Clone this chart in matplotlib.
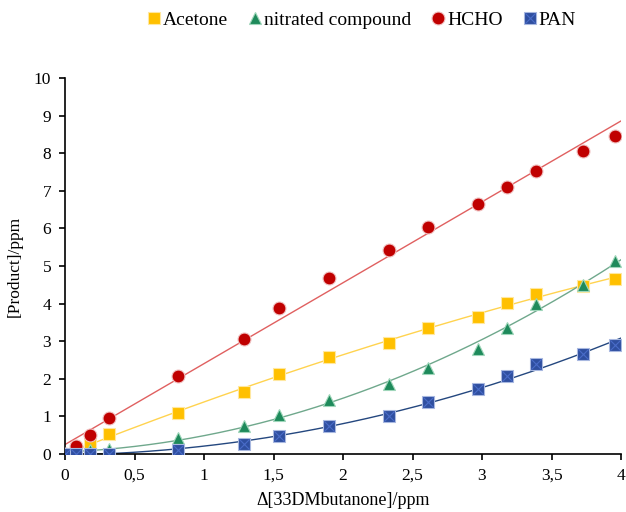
import numpy as np
import matplotlib
matplotlib.use("Agg")
import matplotlib.pyplot as plt
from matplotlib.lines import Line2D

plt.rcParams['font.family'] = ['Liberation Serif', 'DejaVu Serif']

# Consumed 3,3-dimethylbutanone (ppm)
x = [0, 0.08, 0.18, 0.32, 0.81, 1.285, 1.54, 1.90, 2.33, 2.61, 2.97, 3.18, 3.39, 3.73, 3.96]

acetone = [0, 0.05, 0.28, 0.54, 1.10, 1.64, 2.12, 2.59, 2.96, 3.36, 3.65, 4.01, 4.26, 4.47, 4.65]
nitrated = [0, 0.03, 0.10, 0.14, 0.42, 0.75, 1.05, 1.44, 1.86, 2.28, 2.79, 3.36, 3.98, 4.50, 5.13]
hcho = [0, 0.21, 0.50, 0.97, 2.08, 3.05, 3.87, 4.68, 5.42, 6.03, 6.66, 7.11, 7.53, 8.05, 8.47]
pan = [0, 0, 0, 0.01, 0.11, 0.27, 0.47, 0.74, 1.02, 1.37, 1.73, 2.07, 2.39, 2.66, 2.90]

x_ticks = [0, 0.5, 1, 1.5, 2, 2.5, 3, 3.5, 4]
x_tick_labels = ['0', '0,5', '1', '1,5', '2', '2,5', '3', '3,5', '4']
y_ticks = list(range(0, 11))

fig = plt.figure(figsize=(6.26, 5.12), dpi=100)
ax = fig.add_axes([65 / 626, 1 - 454 / 512, 556 / 626, 376 / 512])

xa = np.asarray(x)
xf = np.linspace(0, 4, 200)

def trend(y, deg):
    c = np.polyfit(xa, np.asarray(y), deg)
    return np.polyval(c, xf)

# Trend lines
ax.plot(xf, trend(hcho, 1), color='#E06060', lw=1.0, zorder=2)
ax.plot(xf, trend(acetone, 2), color='#FFD34F', lw=1.0, zorder=2)
ax.plot(xf, trend(nitrated, 2), color='#6FA88C', lw=1.0, zorder=2)
ax.plot(xf, trend(pan, 2), color='#24477F', lw=1.0, zorder=2)

# Measured points
ax.plot(x, acetone, ls='none', marker='s', ms=8.5, mfc='#FFC000', mec='#FFE8A0', mew=0.8, zorder=3)
ax.plot(x, nitrated, ls='none', marker='^', ms=8.7, mfc='#1E8A5B', mec='#9FD6BA', mew=0.8, zorder=4)
ax.plot(x, hcho, ls='none', marker='o', ms=9.3, mfc='#C00000', mec='#F0C0C0', mew=0.8, zorder=5)
ax.plot(x, pan, ls='none', marker='s', ms=8.5, mfc='#2F4FA0', mec='#A8B8E0', mew=0.8, zorder=6)
ax.plot(x, pan, ls='none', marker='x', ms=7.2, mec='#4A6CC8', mew=0.8, zorder=7)

ax.set_xlim(0, 4)
ax.set_ylim(0, 10)
ax.set_xticks(x_ticks)
ax.set_xticklabels(x_tick_labels)
ax.set_yticks(y_ticks)
for s in ['top', 'right']:
    ax.spines[s].set_visible(False)
for s in ['left', 'bottom']:
    ax.spines[s].set_linewidth(1.2)
    ax.spines[s].set_color('black')
ax.tick_params(axis='both', direction='out', length=4, width=1.2, labelsize=12.5, colors='black')
ax.tick_params(axis='x', pad=6)
ax.tick_params(axis='y', pad=6)

ax.set_xlabel('Δ[33DMbutanone]/ppm', fontsize=13, labelpad=6)
ax.set_ylabel('[Product]/ppm', fontsize=12.5, labelpad=8)

handles = [
    Line2D([], [], ls='none', marker='s', ms=8.5, mfc='#FFC000', mec='#FFE8A0', mew=0.8),
    Line2D([], [], ls='none', marker='^', ms=8.7, mfc='#1E8A5B', mec='#9FD6BA', mew=0.8),
    Line2D([], [], ls='none', marker='o', ms=9.3, mfc='#C00000', mec='#F0C0C0', mew=0.8),
    (Line2D([], [], ls='none', marker='s', ms=8.5, mfc='#2F4FA0', mec='#A8B8E0', mew=0.8),
     Line2D([], [], ls='none', marker='x', ms=7.2, mec='#4A6CC8', mew=0.8)),
]
labels = ['Acetone', 'nitrated compound', 'HCHO', 'PAN']
fig.legend(handles, labels, loc='center', bbox_to_anchor=(362 / 626, 1 - 20 / 512),
           ncol=4, frameon=False, fontsize=14, handlelength=0.6, handletextpad=0.15,
           columnspacing=1.1, borderaxespad=0)

fig.savefig('out.png', dpi=100)
